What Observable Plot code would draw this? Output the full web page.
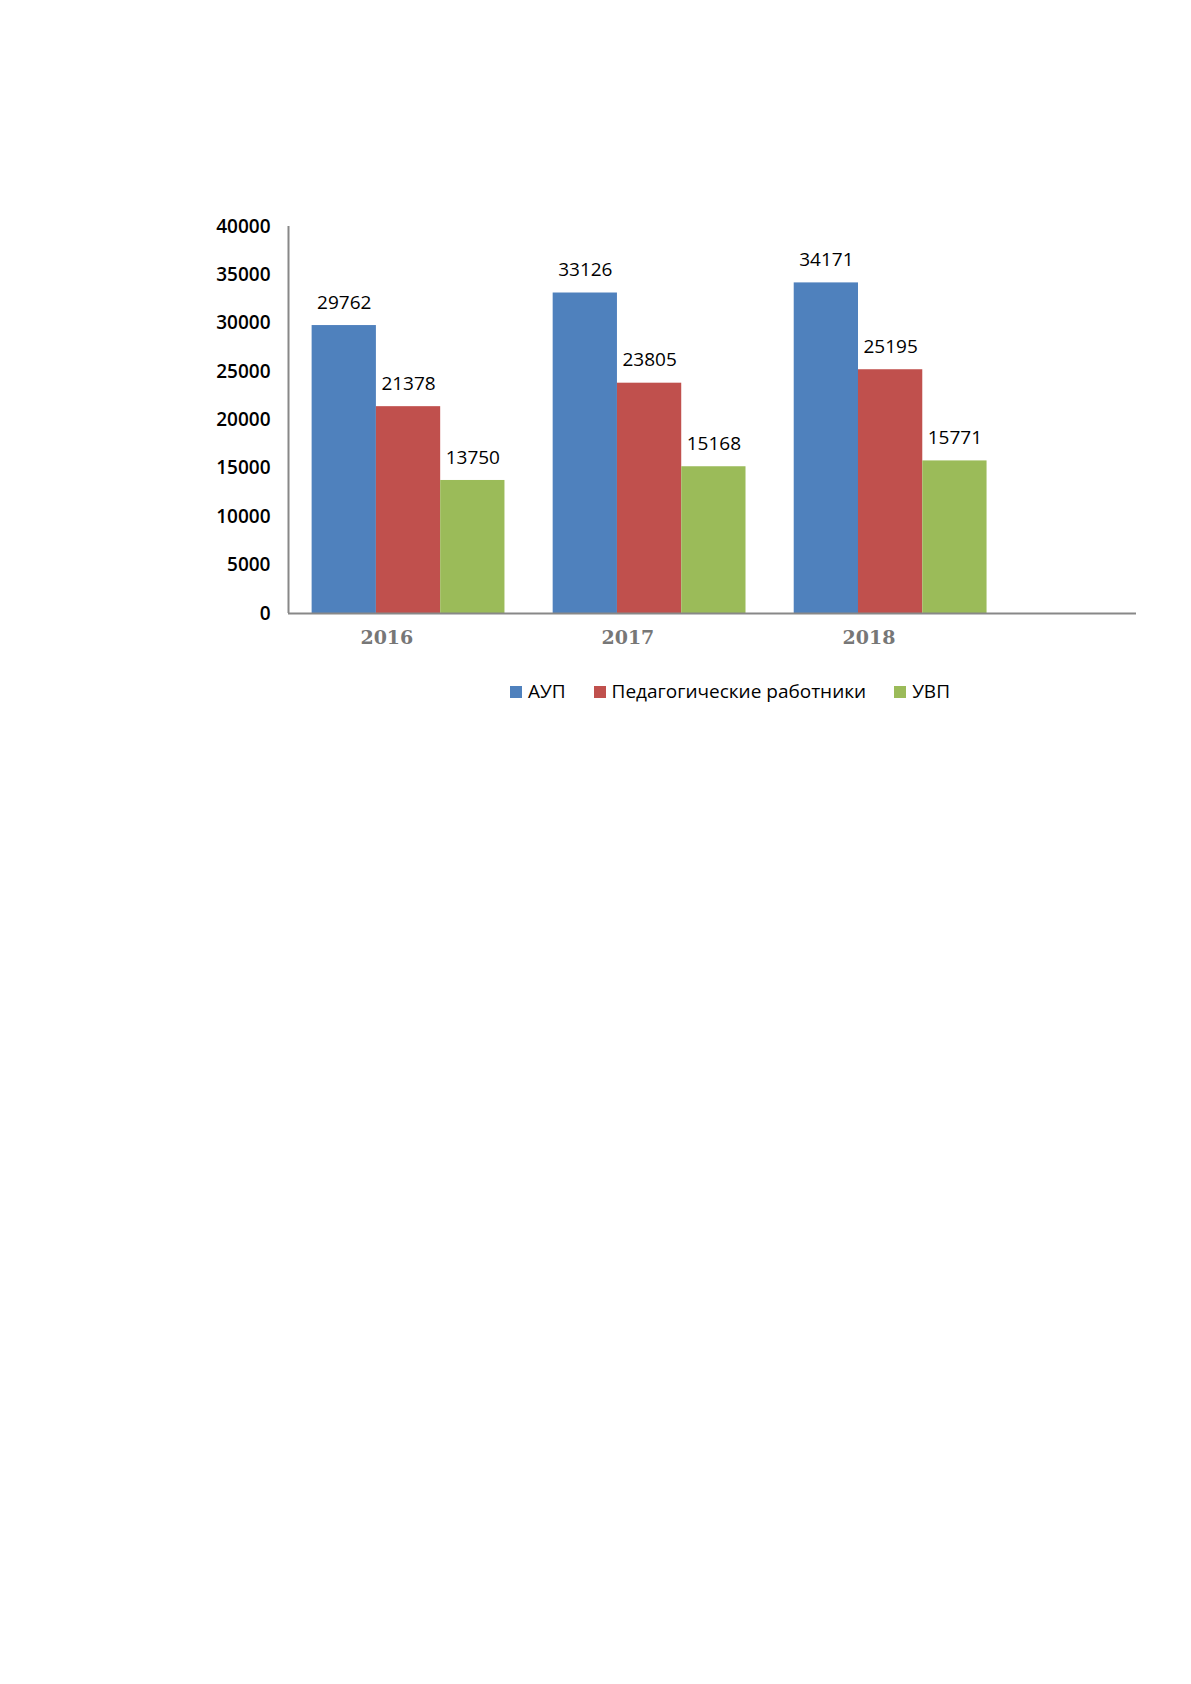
<!DOCTYPE html>
<html><head><meta charset="utf-8">
<script src="https://cdn.jsdelivr.net/npm/d3@7"></script>
<script src="https://cdn.jsdelivr.net/npm/@observablehq/plot@0.6"></script>
<style>body{margin:0;background:#fff;font-family:"Open Sans",sans-serif}
#leg{position:absolute;top:678px;left:510px;font-size:19px;display:flex;gap:28px;color:#000}
#leg span i{display:inline-block;width:12px;height:12px;margin-right:6px;vertical-align:0}</style>
</head><body><div id="c"></div><div id="leg"></div>
<script>
const years=[2016,2017,2018];
const series=["АУП","Педагогические работники","УВП"];
const colors=["#4f81bd","#c0504d","#9bbb59"];
const aup=[29762,33126,34171];
const ped=[21378,23805,25195];
const uvp=[13750,15168,15771];
const yTicks=[0,5000,10000,15000,20000,25000,30000,35000,40000];
const vals=[aup,ped,uvp];
const data=[];
years.forEach((y,i)=>series.forEach((s,j)=>data.push({year:y,s,j,v:vals[j][i],x1:y-0.4+j*0.8/3,x2:y-0.4+(j+1)*0.8/3})));
const p=Plot.plot({width:1191,height:660,marginLeft:288,marginRight:55,marginTop:226,marginBottom:47,
x:{domain:[2015.502,2019.02],axis:null},
y:{domain:[0,40000],axis:null},
color:{domain:series,range:colors},
style:{fontSize:"19px",fontFamily:"Open Sans"},
marks:[
Plot.rectY(data,{x1:"x1",x2:"x2",y:"v",fill:"s"}),
Plot.text(data,{x:d=>(d.x1+d.x2)/2,y:"v",text:d=>String(d.v),dy:-23,fontSize:19,fill:"#000"}),
Plot.ruleY([0],{stroke:"#888",strokeWidth:2}),
Plot.ruleX([2015.502],{y1:0,y2:40000,stroke:"#888",strokeWidth:2}),
Plot.text(years,{x:d=>d-0.09,y:0,text:d=>String(d),dy:24,fontFamily:"DejaVu Serif",fontWeight:"bold",fontSize:19,fill:"#777"}),
Plot.axisY({ticks:yTicks,tickSize:0,tickPadding:18,fontSize:19,fontWeight:600,fill:"#000",label:null,tickFormat:d=>String(d)})
]});
document.getElementById("c").appendChild(p);
document.getElementById("leg").innerHTML=series.map((s,i)=>`<span><i style="background:${colors[i]}"></i>${s}</span>`).join("");
</script></body></html>
